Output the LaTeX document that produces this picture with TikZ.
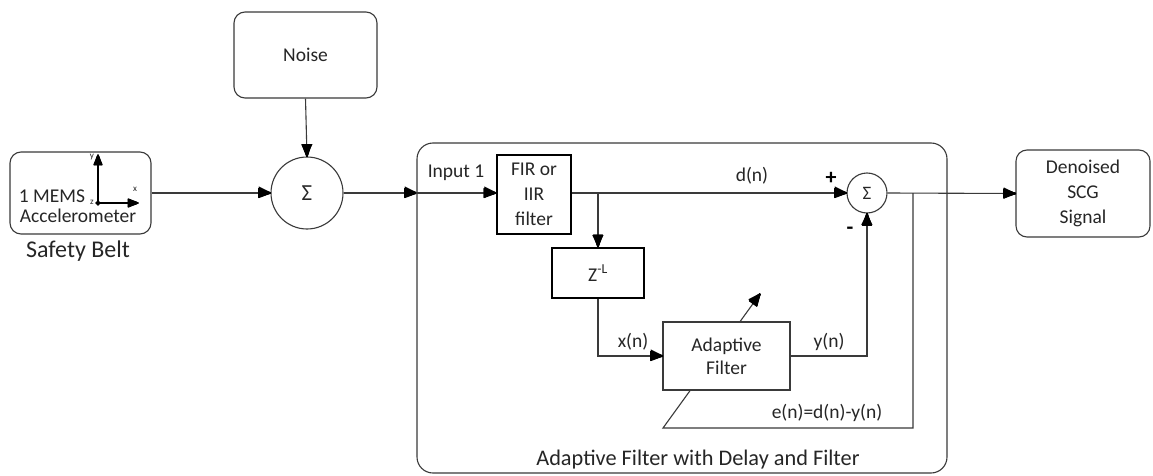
\documentclass[tikz,border=0pt]{standalone}
\usepackage{fontspec}
\setmainfont{Carlito}
\newfontfamily\arrowglyphfont{DejaVu Sans}
\usetikzlibrary{calc}
\definecolor{ink}{HTML}{262626}
\definecolor{wire}{HTML}{3A3A3A}
\tikzset{
  txt/.style={font=\fontsize{19.5}{25}\selectfont, text=ink},
  big txt/.style={font=\fontsize{22.3}{26}\selectfont, text=ink, inner sep=0pt},
  rbox/.style={draw=wire, line width=1.1pt, rounded corners=11pt, fill=white,
               align=center, txt, inner sep=0pt},
  tbox/.style={draw=black, line width=2.4pt, fill=white, align=center, txt, inner sep=0pt},
  pbox/.style={draw=wire, line width=1.1pt, fill=white, align=center, txt, inner sep=0pt},
  sumc/.style={circle, draw=wire, line width=1.1pt, fill=white, inner sep=0pt, txt},
  arr/.style={color=wire, line width=1.1pt, shorten >=4pt},
  axis/.style={color=black, line width=1.4pt, shorten >=4pt},
  tiny/.style={font=\fontsize{9}{10}\selectfont, text=ink, inner sep=0pt},
  sign/.style={font=\fontsize{22}{24}\selectfont\bfseries, text=black, inner sep=0pt},
  fan/.style={line width=1.4pt, line cap=butt},
  tiphead/.style={font=\arrowglyphfont\fontsize{15}{15}\selectfont, text=black,
                  inner sep=0pt, outer sep=0pt, anchor=east},
}
% solid triangular heads built from strokes fanning out of the tip:
% #1 colour, #2 length, #3 half width, #4 point the segment comes from, #5 tip
\newcommand\headfan[5]{%
  \coordinate (hb1) at ($(#5)!#2!(#4)!#3!90:(#5)$);
  \coordinate (hb2) at ($(#5)!#2!(#4)!#3!-90:(#5)$);
  \fill[#1] (#5) -- (hb1) -- (hb2) -- cycle;
  \foreach \t in {0,0.1,...,1.01} {\draw[#1, fan] (#5) -- ($(hb1)!\t!(hb2)$);}
  \draw[#1, line width=0.6pt, line join=miter] (#5) -- (hb1) -- (hb2) -- cycle;}
\newcommand\tipw[2]{\headfan{black}{12pt}{4.5pt}{#1}{#2}}
\newcommand\tipa[2]{\headfan{black}{10pt}{4pt}{#1}{#2}}
\begin{document}
\begin{tikzpicture}[x=1pt, y=1pt, yscale=-1]
\useasboundingbox (0,0) rectangle (1153,476);

% sensor block
\node[rbox, minimum width=141pt, minimum height=82pt] (acc) at (80.5,193) {};
\node[txt, inner sep=0pt] (mems) at (52,196) {1 MEMS};
\node[txt, inner sep=0pt] (accl) at (78,216) {Accelerometer};
\coordinate (org) at (98,203);
\coordinate (yend) at (98,155);
\coordinate (xend) at (138,203);
\draw[axis] (org) -- (yend);
\draw[axis] (org) -- (xend);
\tipa{org}{yend}
\tipa{org}{xend}
\draw[black, line width=2.4pt] (org) circle (1.2pt);
\node[tiny] (ylab) at (92,157) {y};
\node[tiny] (xlab) at (135,189) {x};
\node[tiny] (zlab) at (92,202) {z};
\node[big txt, font=\fontsize{24}{28}\selectfont] (belt) at (78,251) {Safety Belt};

% noise and first summer
\node[rbox, minimum width=143pt, minimum height=86pt] (noise) at (305.5,55) {Noise};
\node[sumc, minimum size=72pt, font=\fontsize{23}{25}\selectfont] (sum1) at (307,193) {Σ};

% adaptive filter enclosure
\node[rbox, rounded corners=16pt, minimum width=530pt, minimum height=330pt] (big) at (682,308) {};
\node[big txt] (cap) at (698,460) {Adaptive Filter with Delay and Filter};

% inner blocks
\node[tbox, minimum width=74pt, minimum height=79pt] (fir) at (534,194.5) {FIR or\\IIR\\filter};
\node[tbox, minimum width=92pt, minimum height=50pt] (zbox) at (598,273) {Z\textsuperscript{-L}};
\node[sumc, minimum size=40pt, font=\fontsize{19}{21}\selectfont] (sum2) at (867,193) {Σ};

% error feedback into the adaptive filter
\coordinate (tap) at (913,193);
\coordinate (etail) at (663,428);
\coordinate (etip) at (760,294);
\draw[arr] (tap) |- (etail) -- (etip);
\tipw{etail}{etip}
\node[tiphead, rotate=54] (hd10) at (etip) {▶};
\node[pbox, minimum width=127pt, minimum height=68pt] (adapt) at (726.5,356) {Adaptive\\[-2pt]Filter};

% output block
\node[rbox, minimum width=134pt, minimum height=87pt] (out) at (1083,193.5) {Denoised\\SCG\\Signal};

% anchor points used by the heads
\coordinate (ae) at (acc.east);
\coordinate (s1w) at (sum1.west);
\coordinate (ns) at (noise.south);
\coordinate (s1n) at (sum1.north);
\coordinate (s1e) at (sum1.east);
\coordinate (s2w) at (sum2.west);
\coordinate (zn) at (zbox.north);
\coordinate (aw) at (adapt.west);
\coordinate (s2s) at (sum2.south);
\coordinate (s2e) at (sum2.east);
\coordinate (ow) at (out.west);
\coordinate (inp) at (big.west |- sum1.east);
\coordinate (firin) at (fir.west |- sum1.east);
\coordinate (firout) at (fir.east |- sum1.east);
\coordinate (br) at (zbox.north |- sum1.east);
\coordinate (xc) at (zbox.south |- adapt.west);
\coordinate (yc) at (sum2.south |- adapt.east);

% signal path
\draw[arr] (acc.east) -- (sum1.west);       \tipw{ae}{s1w}
\draw[arr] (noise.south) -- (sum1.north);   \tipw{ns}{s1n}
\draw[arr] (sum1.east) -- (inp);            \tipw{s1e}{inp}
\draw[arr] (inp) -- (firin);                \tipw{inp}{firin}
\draw[arr] (firout) -- (sum2.west);         \tipw{firout}{s2w}
\draw[arr] (br) -- (zbox.north);            \tipw{br}{zn}
\draw[arr] (zbox.south) |- (adapt.west);    \tipw{xc}{aw}
\draw[arr] (adapt.east) -| (sum2.south);    \tipw{yc}{s2s}
\draw[arr] (sum2.east) -- (out.west);       \tipw{s2e}{ow}

% glyph heads on the connectors
\node[tiphead] (hd1) at (s1w) {▶};
\node[tiphead, rotate=-90] (hd2) at (s1n) {▶};
\node[tiphead] (hd3) at (inp) {▶};
\node[tiphead] (hd4) at (firin) {▶};
\node[tiphead] (hd5) at (s2w) {▶};
\node[tiphead, rotate=-90] (hd6) at (zn) {▶};
\node[tiphead] (hd7) at (aw) {▶};
\node[tiphead, rotate=90] (hd8) at (s2s) {▶};
\node[tiphead] (hd9) at (ow) {▶};

% labels
\node[txt, inner sep=0pt] (l1) at (456,173) {Input 1};
\node[txt, inner sep=0pt] (l2) at (752,176) {d(n)};
\node[sign] (plus) at (831,178) {+};
\node[sign] (minus) at (850,231) {-};
\node[txt, inner sep=0pt] (l3) at (633,342) {x(n)};
\node[txt, inner sep=0pt] (l4) at (829,342) {y(n)};
\node[txt, inner sep=0pt] (l5) at (827,413) {e(n)=d(n)-y(n)};
\end{tikzpicture}
\end{document}
